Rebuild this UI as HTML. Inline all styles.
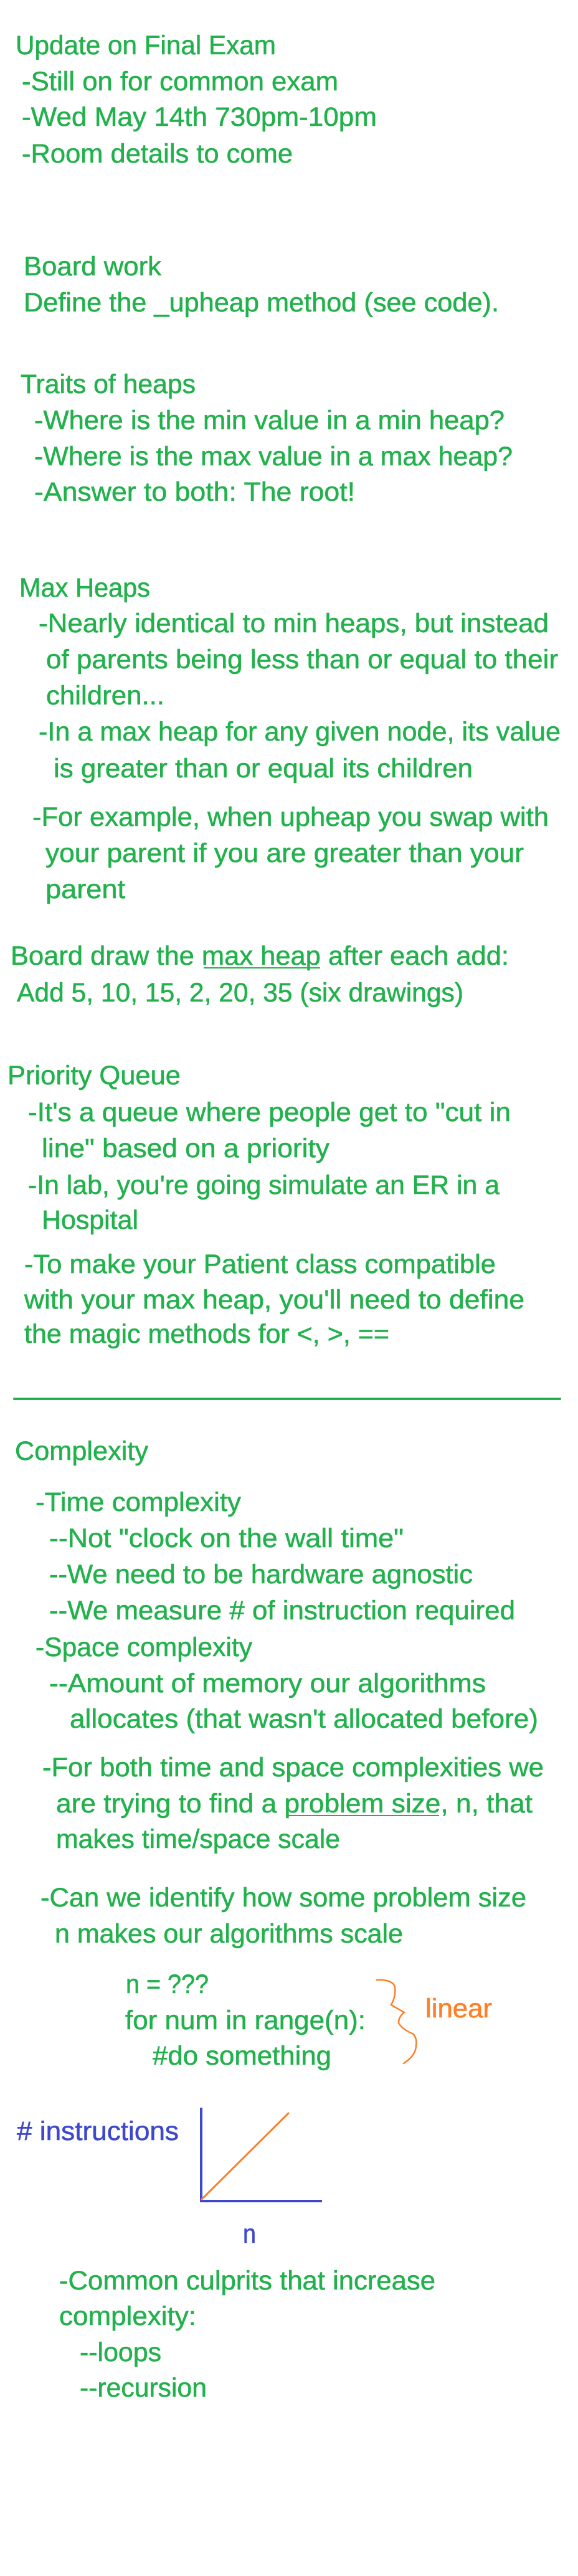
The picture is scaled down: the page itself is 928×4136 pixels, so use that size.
<!DOCTYPE html>
<html><head><meta charset="utf-8"><style>
html,body{margin:0;padding:0;background:#fff;}
svg{display:block;}
text{font-family:"Liberation Sans",Arial,sans-serif;font-size:43px;fill:#22b14c;stroke:#22b14c;stroke-width:0.6px;}
.o{fill:#ff7f27;stroke:#ff7f27;} .b{fill:#3f48cc;stroke:#3f48cc;}
</style></head><body>
<svg width="928" height="4136" viewBox="0 0 928 4136" xmlns="http://www.w3.org/2000/svg">
<rect width="928" height="4136" fill="#fff"/>
<g>
<text x="25" y="87" textLength="418" lengthAdjust="spacingAndGlyphs">Update on Final Exam</text>
<text x="35" y="145" textLength="508" lengthAdjust="spacingAndGlyphs">-Still on for common exam</text>
<text x="35" y="202" textLength="570" lengthAdjust="spacingAndGlyphs">-Wed May 14th 730pm-10pm</text>
<text x="35" y="261" textLength="435" lengthAdjust="spacingAndGlyphs">-Room details to come</text>
<text x="38" y="442" textLength="221" lengthAdjust="spacingAndGlyphs">Board work</text>
<text x="38" y="500" textLength="763" lengthAdjust="spacingAndGlyphs">Define the _upheap method (see code).</text>
<text x="33" y="631" textLength="281" lengthAdjust="spacingAndGlyphs">Traits of heaps</text>
<text x="55" y="689" textLength="755" lengthAdjust="spacingAndGlyphs">-Where is the min value in a min heap?</text>
<text x="55" y="747" textLength="768" lengthAdjust="spacingAndGlyphs">-Where is the max value in a max heap?</text>
<text x="55" y="804" textLength="515" lengthAdjust="spacingAndGlyphs">-Answer to both: The root!</text>
<text x="31" y="958" textLength="210" lengthAdjust="spacingAndGlyphs">Max Heaps</text>
<text x="62" y="1015" textLength="819" lengthAdjust="spacingAndGlyphs">-Nearly identical to min heaps, but instead</text>
<text x="74" y="1073" textLength="822" lengthAdjust="spacingAndGlyphs">of parents being less than or equal to their</text>
<text x="74" y="1131" textLength="190" lengthAdjust="spacingAndGlyphs">children...</text>
<text x="62" y="1189" textLength="838" lengthAdjust="spacingAndGlyphs">-In a max heap for any given node, its value</text>
<text x="86" y="1248" textLength="673" lengthAdjust="spacingAndGlyphs">is greater than or equal its children</text>
<text x="52" y="1326" textLength="829" lengthAdjust="spacingAndGlyphs">-For example, when upheap you swap with</text>
<text x="73" y="1384" textLength="768" lengthAdjust="spacingAndGlyphs">your parent if you are greater than your</text>
<text x="73" y="1442" textLength="128" lengthAdjust="spacingAndGlyphs">parent</text>
<text x="17" y="1549" textLength="800" lengthAdjust="spacingAndGlyphs">Board draw the max heap after each add:</text>
<line x1="327" y1="1554" x2="514" y2="1554" stroke="#22b14c" stroke-width="2"/>
<text x="27" y="1608" textLength="717" lengthAdjust="spacingAndGlyphs">Add 5, 10, 15, 2, 20, 35 (six drawings)</text>
<text x="12" y="1741" textLength="278" lengthAdjust="spacingAndGlyphs">Priority Queue</text>
<text x="45" y="1800" textLength="775" lengthAdjust="spacingAndGlyphs">-It's a queue where people get to "cut in</text>
<text x="67" y="1858" textLength="462" lengthAdjust="spacingAndGlyphs">line" based on a priority</text>
<text x="45" y="1917" textLength="757" lengthAdjust="spacingAndGlyphs">-In lab, you're going simulate an ER in a</text>
<text x="67" y="1973" textLength="155" lengthAdjust="spacingAndGlyphs">Hospital</text>
<text x="39" y="2044" textLength="757" lengthAdjust="spacingAndGlyphs">-To make your Patient class compatible</text>
<text x="39" y="2101" textLength="803" lengthAdjust="spacingAndGlyphs">with your max heap, you'll need to define</text>
<text x="39" y="2156" textLength="586" lengthAdjust="spacingAndGlyphs">the magic methods for &lt;, &gt;, ==</text>
<line x1="23" y1="2246" x2="899" y2="2246" stroke="#22b14c" stroke-width="4" stroke-linecap="round"/>
<text x="24" y="2344" textLength="214" lengthAdjust="spacingAndGlyphs">Complexity</text>
<text x="57" y="2426" textLength="330" lengthAdjust="spacingAndGlyphs">-Time complexity</text>
<text x="79" y="2484" textLength="569" lengthAdjust="spacingAndGlyphs">--Not "clock on the wall time"</text>
<text x="79" y="2542" textLength="680" lengthAdjust="spacingAndGlyphs">--We need to be hardware agnostic</text>
<text x="79" y="2600" textLength="748" lengthAdjust="spacingAndGlyphs">--We measure # of instruction required</text>
<text x="57" y="2659" textLength="348" lengthAdjust="spacingAndGlyphs">-Space complexity</text>
<text x="79" y="2717" textLength="701" lengthAdjust="spacingAndGlyphs">--Amount of memory our algorithms</text>
<text x="112" y="2774" textLength="752" lengthAdjust="spacingAndGlyphs">allocates (that wasn't allocated before)</text>
<text x="68" y="2852" textLength="805" lengthAdjust="spacingAndGlyphs">-For both time and space complexities we</text>
<text x="90" y="2910" textLength="765" lengthAdjust="spacingAndGlyphs">are trying to find a problem size, n, that</text>
<line x1="460" y1="2915" x2="705" y2="2915" stroke="#22b14c" stroke-width="2"/>
<text x="90" y="2967" textLength="456" lengthAdjust="spacingAndGlyphs">makes time/space scale</text>
<text x="65" y="3061" textLength="780" lengthAdjust="spacingAndGlyphs">-Can we identify how some problem size</text>
<text x="88" y="3119" textLength="559" lengthAdjust="spacingAndGlyphs">n makes our algorithms scale</text>
<text x="202" y="3200" textLength="133" lengthAdjust="spacingAndGlyphs">n = ???</text>
<text x="201" y="3258" textLength="386" lengthAdjust="spacingAndGlyphs">for num in range(n):</text>
<text x="245" y="3315" textLength="287" lengthAdjust="spacingAndGlyphs">#do something</text>
<text class="o" x="683" y="3239" textLength="107" lengthAdjust="spacingAndGlyphs">linear</text>
<path d="M605 3179 Q630 3178 634 3190 Q636 3205 628 3219 Q640 3226 649 3231 Q640 3238 640 3248 Q645 3258 664 3266 Q670 3275 668 3284 Q668 3300 648 3313" fill="none" stroke="#ff7f27" stroke-width="2.5" stroke-linecap="round"/>
<text class="b" x="27" y="3436" textLength="260" lengthAdjust="spacingAndGlyphs"># instructions</text>
<line x1="323" y1="3384" x2="323" y2="3535" stroke="#3f48cc" stroke-width="4"/>
<line x1="321" y1="3534" x2="517" y2="3534" stroke="#3f48cc" stroke-width="4"/>
<line x1="324" y1="3531" x2="463" y2="3393" stroke="#ff7f27" stroke-width="3" stroke-linecap="round"/>
<text class="b" x="390" y="3601" textLength="21" lengthAdjust="spacingAndGlyphs">n</text>
<text x="95" y="3676" textLength="604" lengthAdjust="spacingAndGlyphs">-Common culprits that increase</text>
<text x="95" y="3733" textLength="220" lengthAdjust="spacingAndGlyphs">complexity:</text>
<text x="128" y="3791" textLength="131" lengthAdjust="spacingAndGlyphs">--loops</text>
<text x="128" y="3848" textLength="204" lengthAdjust="spacingAndGlyphs">--recursion</text>
</g>
</svg>
</body></html>
